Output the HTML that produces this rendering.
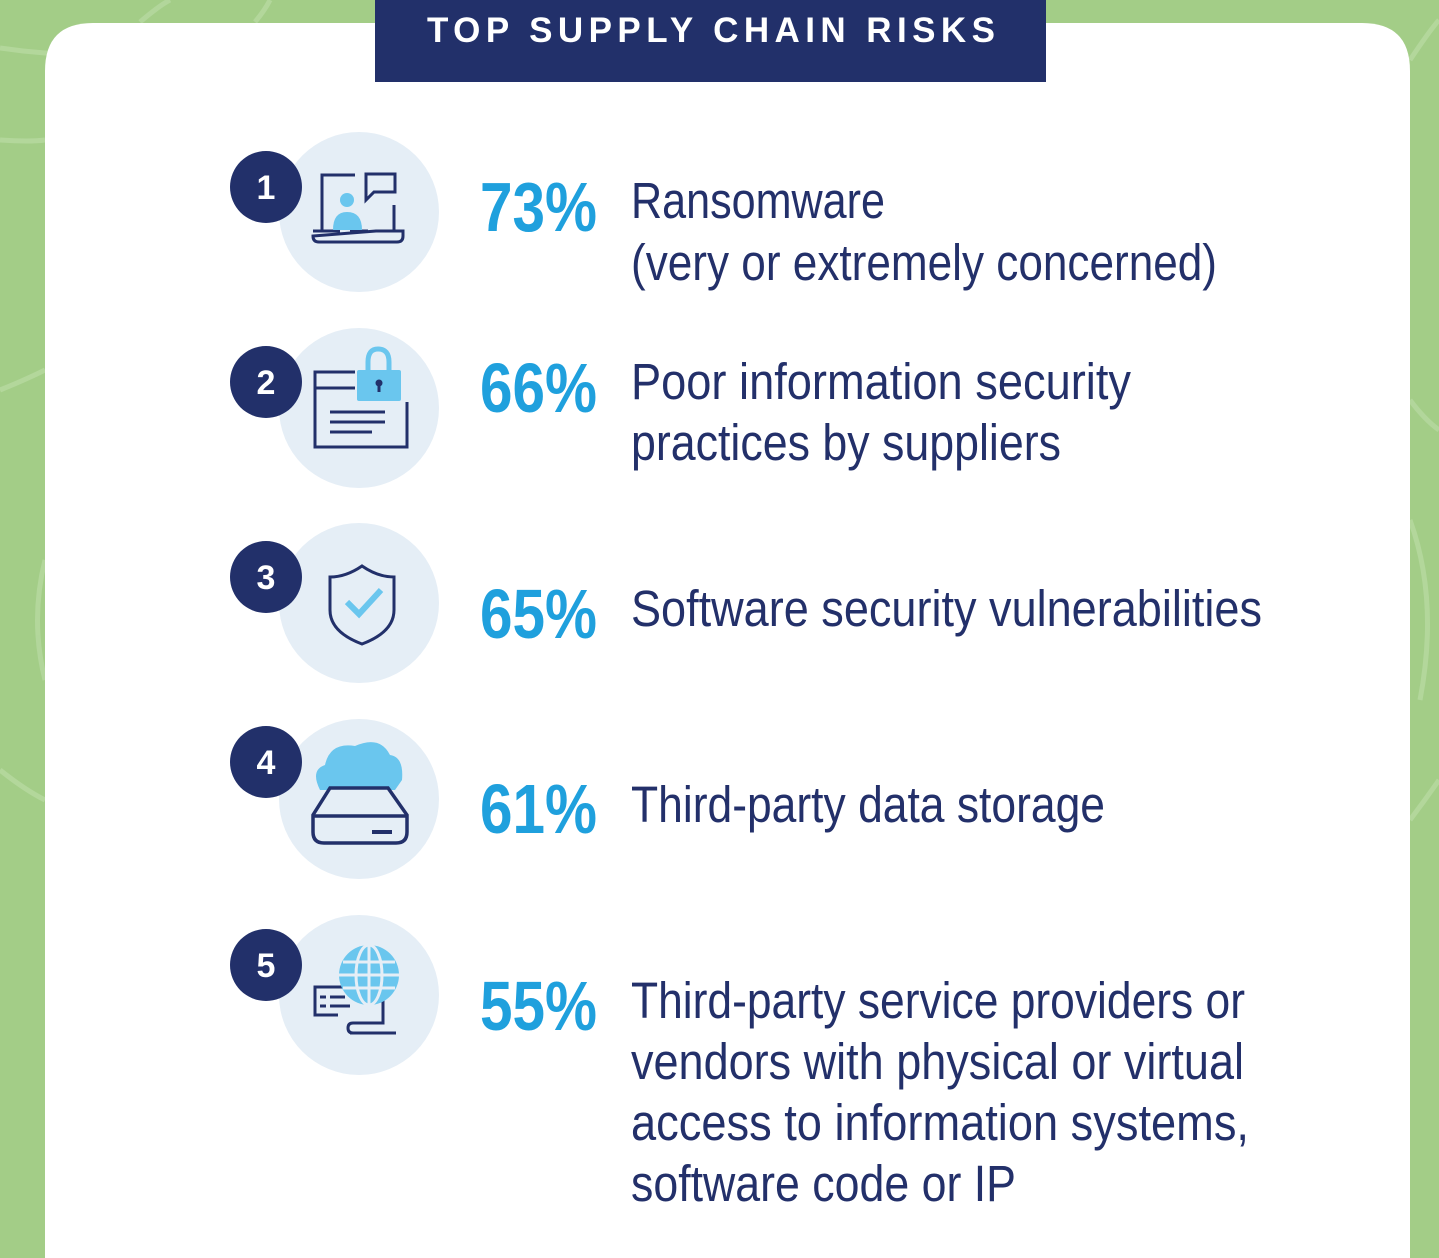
<!DOCTYPE html>
<html><head><meta charset="utf-8"><style>
html,body{margin:0;padding:0;width:1439px;height:1258px;overflow:hidden;background:#a3cd87}
svg{display:block;overflow:hidden}
</style></head><body>
<svg width="1439" height="1258" viewBox="0 0 1439 1258" xmlns="http://www.w3.org/2000/svg">
<rect width="1439" height="1258" fill="#a3cd87"/>
<g fill="none" stroke="#b6d9a0" stroke-width="5" opacity="0.8">
<path d="M0 48 Q80 60 160 50"/>
<path d="M0 140 Q30 142 45 140"/>
<path d="M140 22 Q160 5 170 0"/>
<path d="M255 22 Q265 10 270 0"/>
<path d="M1410 60 Q1430 30 1439 20"/>
<path d="M0 390 Q25 380 45 370"/>
<path d="M0 770 Q25 790 45 800"/>
<path d="M1410 400 Q1425 420 1439 430"/>
<path d="M1410 820 Q1425 800 1439 780"/>
<path d="M45 560 Q30 620 45 680"/>
<path d="M1410 520 Q1439 600 1420 700"/>
</g>
<path d="M45 1258 V71 Q45 23 93 23 H1362 Q1410 23 1410 71 V1258 Z" fill="#ffffff"/>
<rect x="375" y="0" width="671" height="82" fill="#22306a"/>
<text x="427" y="42" font-family="Liberation Sans, sans-serif" font-weight="bold" font-size="35" fill="#fff" textLength="568" lengthAdjust="spacing">TOP SUPPLY CHAIN RISKS</text>

<g fill="#e5eef6">
<circle cx="359" cy="212" r="80"/><circle cx="359" cy="408" r="80"/><circle cx="359" cy="603" r="80"/><circle cx="359" cy="799" r="80"/><circle cx="359" cy="995" r="80"/>
</g>
<g fill="#22306a">
<circle cx="266" cy="187" r="36"/><circle cx="266" cy="382" r="36"/><circle cx="266" cy="577" r="36"/><circle cx="266" cy="762" r="36"/><circle cx="266" cy="965" r="36"/>
</g>
<g font-family="Liberation Sans, sans-serif" font-weight="bold" font-size="34" fill="#fff" text-anchor="middle">
<text x="266" y="199">1</text><text x="266" y="394">2</text><text x="266" y="589">3</text><text x="266" y="774">4</text><text x="266" y="977">5</text>
</g>

<g stroke="#22306a" stroke-width="3" fill="none">
<path d="M355 175 H322 V231"/><path d="M394 205 V231"/>
<path d="M366 174 H395 V192 H374 L366 200 Z"/>
<path d="M313 231 H340 M350 231 H368 M376 231 H403 V236 Q403 242 397 242 H319 Q313 242 313 236 Z"/>
</g>
<circle cx="347" cy="200" r="7" fill="#6ac6ee"/>
<path d="M333 230 Q333 212 347 212 Q362 212 362 230 Z" fill="#6ac6ee"/>
<g stroke="#22306a" stroke-width="3" fill="none">
<path d="M355 372 H315 V447 H407 V402"/><path d="M315 388 H355"/>
<path d="M330 412 H385 M330 422 H385 M330 432 H372"/>
</g>
<path d="M368 372 V362 Q368 349 378 349 Q389 349 389 362 V372" stroke="#6ac6ee" stroke-width="5" fill="none"/>
<rect x="357" y="370" width="44" height="31" rx="2" fill="#6ac6ee"/>
<circle cx="379" cy="383" r="3.5" fill="#22306a"/><rect x="377.5" y="384" width="3" height="8" fill="#22306a"/>
<path d="M362 566 Q378 577 394 577 V610 Q394 632 362 644 Q330 632 330 610 V577 Q346 577 362 566 Z" stroke="#22306a" stroke-width="3" fill="none"/>
<path d="M347 602 L359 614 L381 590" stroke="#6ac6ee" stroke-width="6" fill="none"/>
<path d="M320 790 Q310 770 325 765 Q330 742 355 746 Q380 735 390 755 Q404 757 402 780 L395 790 Z" fill="#6ac6ee"/>
<g stroke="#22306a" stroke-width="3.5" fill="#e5eef6">
<path d="M330 788 H388 L407 815 V832 Q407 843 396 843 H324 Q313 843 313 832 V815 Z"/>
<path d="M313 816 H407" fill="none"/>
</g>
<rect x="372" y="830" width="20" height="4" fill="#22306a"/>
<g stroke="#22306a" stroke-width="3" fill="none">
<path d="M338 1015 H315 V987 H345"/>
<path d="M383 1000 V1023 H353 Q348 1023 348 1028 Q348 1033 353 1033 H396 M350 1033 H365" />
<path d="M320 997 H326 M330 997 H345 M320 1006 H326 M330 1006 H350"/>
</g>
<circle cx="369" cy="975" r="30" fill="#6ac6ee"/>
<g stroke="#e5eef6" stroke-width="3" fill="none">
<ellipse cx="369" cy="975" rx="13" ry="30"/><path d="M369 945 V1005 M339 975 H399 M343 962 H395 M343 988 H395"/>
</g>

<g font-family="Liberation Sans, sans-serif" font-weight="bold" font-size="70" fill="#1fa0dd">
<text x="480" y="231" textLength="117" lengthAdjust="spacingAndGlyphs">73%</text>
<text x="480" y="412" textLength="117" lengthAdjust="spacingAndGlyphs">66%</text>
<text x="480" y="638" textLength="117" lengthAdjust="spacingAndGlyphs">65%</text>
<text x="480" y="833" textLength="117" lengthAdjust="spacingAndGlyphs">61%</text>
<text x="480" y="1030" textLength="117" lengthAdjust="spacingAndGlyphs">55%</text>
</g>
<g font-family="Liberation Sans, sans-serif" font-size="51" fill="#23306a">
<text x="631" y="218" textLength="254" lengthAdjust="spacingAndGlyphs">Ransomware</text>
<text x="631" y="280" textLength="586" lengthAdjust="spacingAndGlyphs">(very or extremely concerned)</text>
<text x="631" y="399" textLength="500" lengthAdjust="spacingAndGlyphs">Poor information security</text>
<text x="631" y="460" textLength="430" lengthAdjust="spacingAndGlyphs">practices by suppliers</text>
<text x="631" y="626" textLength="631" lengthAdjust="spacingAndGlyphs">Software security vulnerabilities</text>
<text x="631" y="822" textLength="474" lengthAdjust="spacingAndGlyphs">Third-party data storage</text>
<text x="631" y="1018" textLength="614" lengthAdjust="spacingAndGlyphs">Third-party service providers or</text>
<text x="631" y="1079" textLength="613" lengthAdjust="spacingAndGlyphs">vendors with physical or virtual</text>
<text x="631" y="1140" textLength="618" lengthAdjust="spacingAndGlyphs">access to information systems,</text>
<text x="631" y="1201" textLength="385" lengthAdjust="spacingAndGlyphs">software code or IP</text>
</g>
</svg>
</body></html>
